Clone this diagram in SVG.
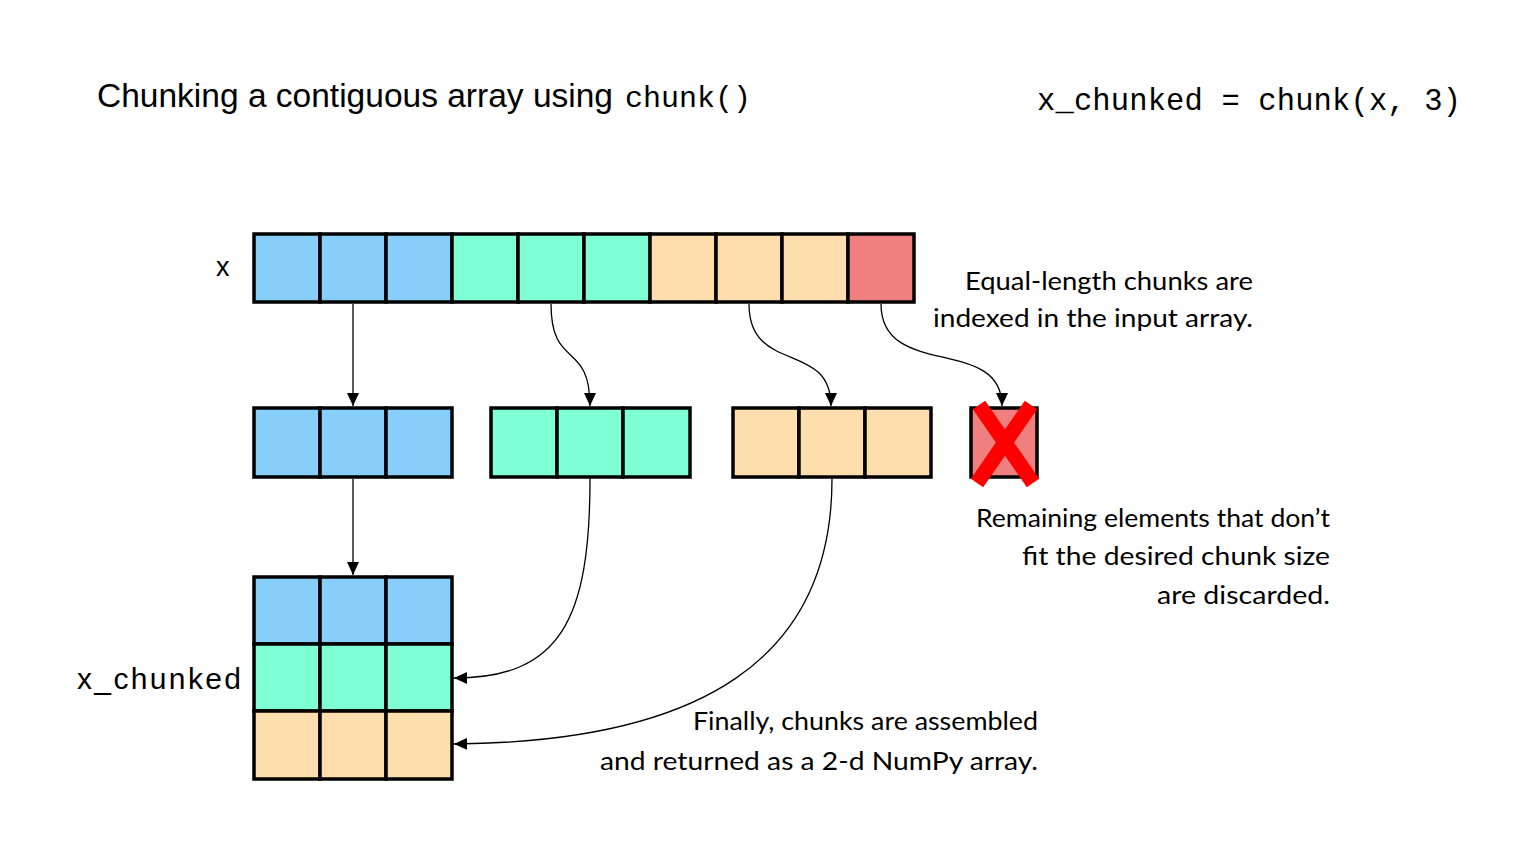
<svg xmlns="http://www.w3.org/2000/svg" width="1536" height="864" viewBox="0 0 1536 864">
<style>
.c{stroke:#000;stroke-width:3.5}
.b{fill:#87CEFA}.g{fill:#7FFFD4}.o{fill:#FFDEAD}.r{fill:#F08080}
.conn{fill:none;stroke:#000;stroke-width:1.3}
.note{font-family:"Lato","Liberation Sans",sans-serif;font-size:25px;fill:#000}
.sans{font-family:"Liberation Sans",Arial,sans-serif;fill:#000}
.mono{font-family:"Liberation Mono","Courier New",monospace;fill:#000}
</style>
<defs>
<marker id="ah" markerUnits="userSpaceOnUse" markerWidth="14" markerHeight="12" refX="13" refY="6" orient="auto">
<path d="M0,0 L13,6 L0,12 Z" fill="#000"/>
</marker>
</defs>
<rect width="1536" height="864" fill="#fff"/>
<g id="title">
<text class="sans" x="97" y="107" font-size="33" textLength="516" lengthAdjust="spacingAndGlyphs">Chunking a contiguous array using</text>
<text class="mono" x="625" y="107" font-size="30">chunk()</text>
</g>
<g id="code">
<text class="mono" x="1037" y="110" font-size="30.5" textLength="424" lengthAdjust="spacing">x_chunked = chunk(x, 3)</text>
</g>
<g id="x-array">
<text class="sans" x="216" y="276" font-size="27">x</text>
<rect class="c b" x="254" y="234" width="66" height="68"/>
<rect class="c b" x="320" y="234" width="66" height="68"/>
<rect class="c b" x="386" y="234" width="66" height="68"/>
<rect class="c g" x="452" y="234" width="66" height="68"/>
<rect class="c g" x="518" y="234" width="66" height="68"/>
<rect class="c g" x="584" y="234" width="66" height="68"/>
<rect class="c o" x="650" y="234" width="66" height="68"/>
<rect class="c o" x="716" y="234" width="66" height="68"/>
<rect class="c o" x="782" y="234" width="66" height="68"/>
<rect class="c r" x="848" y="234" width="66" height="68"/>
</g>
<g id="chunk-blue">
<rect class="c b" x="254" y="408" width="66" height="69"/>
<rect class="c b" x="320" y="408" width="66" height="69"/>
<rect class="c b" x="386" y="408" width="66" height="69"/>
</g>
<g id="chunk-green">
<rect class="c g" x="491" y="408" width="66" height="69"/>
<rect class="c g" x="557" y="408" width="66" height="69"/>
<rect class="c g" x="623" y="408" width="67" height="69"/>
</g>
<g id="chunk-orange">
<rect class="c o" x="733" y="408" width="66" height="69"/>
<rect class="c o" x="799" y="408" width="66" height="69"/>
<rect class="c o" x="865" y="408" width="66" height="69"/>
</g>
<g id="discarded">
<rect class="c r" x="971" y="408" width="66" height="69"/>
<path d="M979,405 L1033,483 M1031,405 L977,483" stroke="#FF0000" stroke-width="15" fill="none"/>
</g>
<g id="x-chunked">
<text class="sans" x="77" y="689" font-size="30" textLength="164" lengthAdjust="spacing">x_chunked</text>
<rect class="c b" x="254" y="577" width="66" height="67"/>
<rect class="c b" x="320" y="577" width="66" height="67"/>
<rect class="c b" x="386" y="577" width="66" height="67"/>
<rect class="c g" x="254" y="644" width="66" height="67"/>
<rect class="c g" x="320" y="644" width="66" height="67"/>
<rect class="c g" x="386" y="644" width="66" height="67"/>
<rect class="c o" x="254" y="711" width="66" height="68"/>
<rect class="c o" x="320" y="711" width="66" height="68"/>
<rect class="c o" x="386" y="711" width="66" height="68"/>
</g>
<g id="connectors">
<path class="conn" d="M353,304 L353,406" marker-end="url(#ah)"/>
<path class="conn" d="M551,304 C551,370 590,340 590,406" marker-end="url(#ah)"/>
<path class="conn" d="M749,304 C749,375 831,340 831,406" marker-end="url(#ah)"/>
<path class="conn" d="M881,304 C881,380 1002,335 1002,406" marker-end="url(#ah)"/>
<path class="conn" d="M353,479 L353,575" marker-end="url(#ah)"/>
<path class="conn" d="M590,479 C590,620 560,678 454,678" marker-end="url(#ah)"/>
<path class="conn" d="M832,479 C832,660 700,742 454,744" marker-end="url(#ah)"/>
</g>
<g id="notes">
<text class="note" x="965" y="290" textLength="288" lengthAdjust="spacingAndGlyphs">Equal-length chunks are</text>
<text class="note" x="933" y="327" textLength="320" lengthAdjust="spacingAndGlyphs">indexed in the input array.</text>
<text class="note" x="976" y="527" textLength="354" lengthAdjust="spacingAndGlyphs">Remaining elements that don’t</text>
<text class="note" x="1022" y="565" textLength="308" lengthAdjust="spacingAndGlyphs">fit the desired chunk size</text>
<text class="note" x="1157" y="604" textLength="173" lengthAdjust="spacingAndGlyphs">are discarded.</text>
<text class="note" x="693" y="730" textLength="345" lengthAdjust="spacingAndGlyphs">Finally, chunks are assembled</text>
<text class="note" x="600" y="770" textLength="438" lengthAdjust="spacingAndGlyphs">and returned as a 2-d NumPy array.</text>
</g>
</svg>
